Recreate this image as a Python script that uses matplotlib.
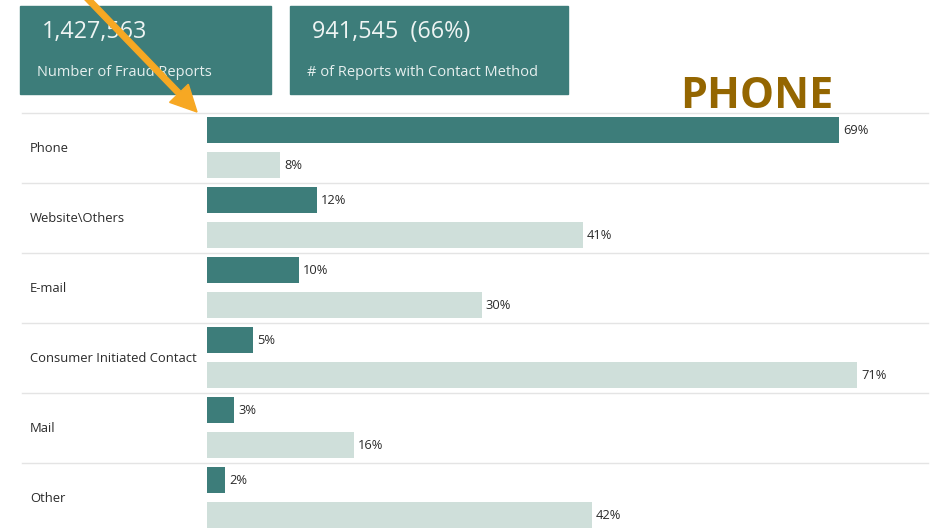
import matplotlib
matplotlib.use("Agg")
from matplotlib import pyplot as plt
from matplotlib.patches import Rectangle, FancyArrow

# data
categories = ["Phone", "Website\\Others", "E-mail", "Consumer Initiated Contact", "Mail", "Other"]
contact_share = [69, 12, 10, 5, 3, 2]      # dark bars
report_share = [8, 41, 30, 71, 16, 42]     # light bars
kpi_values = ["1,427,563", "941,545  (66%)"]
kpi_labels = ["Number of Fraud Reports", "# of Reports with Contact Method"]

W, H = 933, 528
DARK = "#3d7d7a"
LIGHT = "#cfdfda"
TXT = "#2b2b2b"

plt.rcParams['font.family'] = ['Open Sans', 'DejaVu Sans']

fig = plt.figure(figsize=(W / 100, H / 100), dpi=100)


def px_box(x0, y0, x1, y1):
    return [x0 / W, 1 - y1 / H, (x1 - x0) / W, (y1 - y0) / H]


# bar area: one group = 70 px, starting at y=113
n = len(categories)
ax = fig.add_axes(px_box(207, 113, 930, 113 + 70 * n))
ax.set_xlim(0, 723 / 9.16)
ax.set_ylim(n, 0)
ax.axis("off")

bh = 0.37
for i, cat in enumerate(categories):
    y_dark = i + 0.243
    y_light = i + 0.743
    ax.barh(y_dark, contact_share[i], height=bh, color=DARK)
    ax.barh(y_light, report_share[i], height=bh, color=LIGHT)
    ax.text(contact_share[i] + 0.45, y_dark, f"{contact_share[i]}%", va="center",
            ha="left", fontsize=9.3, color=TXT)
    ax.text(report_share[i] + 0.45, y_light, f"{report_share[i]}%", va="center",
            ha="left", fontsize=9.3, color=TXT)
    ax.text(-177 / 723, i + 0.5, cat, transform=ax.get_yaxis_transform(),
            va="center", ha="left", fontsize=9.4, color=TXT)
    ax.plot([-185 / 723, 0.997], [i, i], transform=ax.get_yaxis_transform(),
            color="#e4e4e4", lw=1, clip_on=False, zorder=0)

# overlay in pixel coordinates for boxes, arrow and title
ov = fig.add_axes([0, 0, 1, 1])
ov.set_xlim(0, W)
ov.set_ylim(H, 0)
ov.axis("off")
ov.patch.set_alpha(0)

boxes = [(20, 271), (290, 568)]
for (x0, x1), val, lab in zip(boxes, kpi_values, kpi_labels):
    ov.add_patch(Rectangle((x0, 6), x1 - x0, 88, color=DARK))
    ov.text(x0 + 22, 32, val, fontsize=16.8, color="#eef4f3", va="center", ha="left")
    ov.text(x0 + 17, 72, lab, fontsize=10.5, color="#e6efee", va="center", ha="left")

ov.add_patch(FancyArrow(86, -3, 111, 115, width=5.5, head_width=26, head_length=26,
                        length_includes_head=True, color="#f7a823", zorder=5))

ov.text(757, 96, "PHONE", fontsize=31, fontweight="bold", color="#946600",
        ha="center", va="center")

fig.savefig("out.png", dpi=100)
